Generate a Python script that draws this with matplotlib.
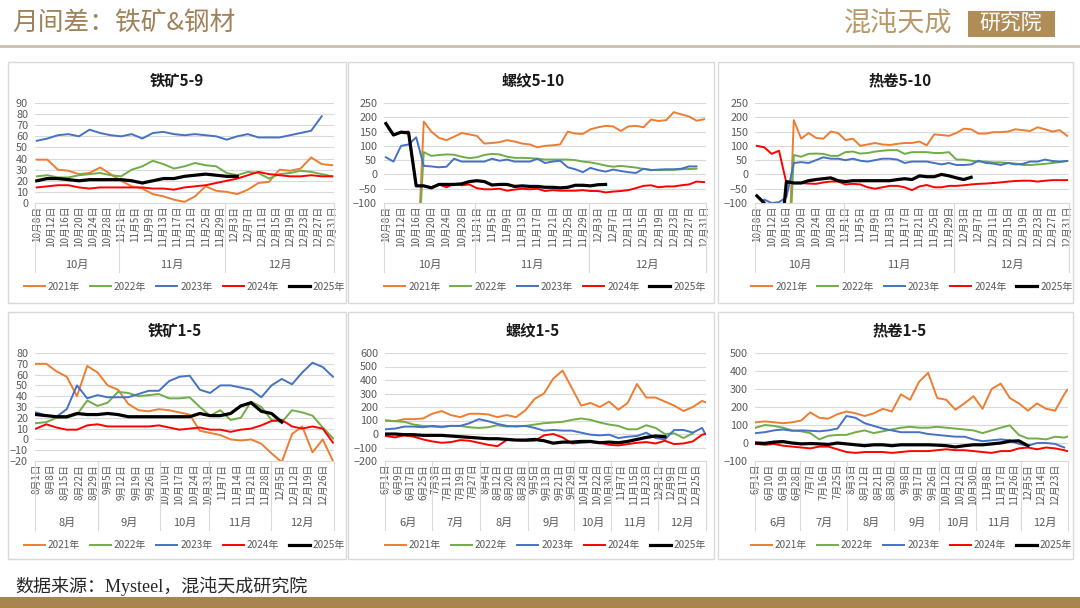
import matplotlib
matplotlib.use("Agg")
import matplotlib.pyplot as plt
from matplotlib.patches import Rectangle
from matplotlib.lines import Line2D
import numpy as np
import pandas as pd

plt.rcParams['font.family'] = ['Noto Sans CJK SC', 'DejaVu Sans']

W, H = 1080, 608
nan = np.nan

YEARS = ['2021年', '2022年', '2023年', '2024年', '2025年']
COLORS = ['#ED7D31', '#70AD47', '#4472C4', '#FF0000', '#000000']
GRAY = '#595959'
GRID = '#D9D9D9'
GOLD = '#A8844F'

# ---------------- data (one value every `step` days of the category axis) ----------------
# 铁矿5-9, every 3 days from 10/8
ore59_2021 = [39, 39, 30, 29, 26, 27, 32, 26, 20, 15, 13, 8, 6, 3, 1, 6, 15, 11, 10, 8,
              12, 18, 19, 30, 29, 31, 41, 35, 34]
ore59_2022 = [24, 25, 23, 23, 25, 26, 27, 25, 24, 30, 33, 38, 35, 31, 33, 36, 34, 33, 27, 25,
              28, 27, 22, 26, 27, 29, 28, 26, 24]
ore59_2023 = [56, 58, 61, 62, 60, 66, 63, 61, 60, 62, 58, 63, 64, 62, 61, 62, 61, 60, 57, 60,
              62, 59, 59, 59, 61, 63, 65, 78]
ore59_2024 = [14, 15, 16, 16, 14, 13, 14, 14, 14, 14, 14, 13, 13, 12, 14, 15, 16, 18, 20, 22,
              25, 28, 26, 25, 24, 24, 25, 24, 24]
ore59_2025 = [20, 22, 22, 21, 20, 21, 21, 21, 21, 20, 18, 20, 22, 22, 24, 25, 26, 25, 24, 24]

# 螺纹5-10, every 2 days from 10/8
rb510_2021 = [nan, nan, nan, nan, -400, 185, 150, 128, 120, 132, 145, 140, 135, 108, 110,
              113, 120, 115, 108, 105, 95, 100, 102, 105, 150, 143, 142, 158, 165, 170,
              168, 152, 168, 170, 165, 192, 187, 190, 218, 210, 203, 188, 193]
rb510_2022 = [nan, nan, nan, nan, -400, 78, 65, 68, 70, 69, 62, 57, 60, 68, 72, 70, 62, 58,
              58, 57, 55, 52, 52, 52, 52, 50, 45, 42, 37, 31, 27, 30, 27, 24, 19, 16, 15,
              16, 16, 18, 19, 20]
rb510_2023 = [60, 45, 100, 105, 130, 30, 28, 25, 27, 55, 45, 45, 45, 45, 55, 48, 52, 45, 45,
              45, 55, 40, 45, 48, 25, 18, 8, 23, 15, 10, 17, 12, 8, 5, 20, 15, 17, 18, 18,
              20, 28, 28]
rb510_2024 = [180, 138, 148, 150, -40, -40, -45, -35, -45, -33, -38, -35, -48, -52, -52, -50,
              -57, -53, -50, -52, -50, -58, -55, -57, -57, -57, -55, -58, -58, -63, -60, -58,
              -55, -48, -40, -38, -45, -42, -42, -38, -35, -25, -27]
rb510_2025 = [178, 138, 148, 145, -40, -40, -47, -35, -35, -35, -33, -25, -22, -25, -37, -35,
              -35, -42, -40, -42, -42, -45, -45, -47, -45, -38, -38, -40, -36, -35]

# 热卷5-10, every 2 days from 10/8
hc510_2021 = [nan, nan, nan, nan, -500, 190, 125, 145, 128, 125, 150, 145, 120, 125, 100,
              105, 110, 105, 103, 107, 110, 110, 115, 102, 140, 138, 135, 145, 160, 158,
              143, 143, 148, 148, 150, 158, 155, 152, 165, 158, 150, 155, 135]
hc510_2022 = [nan, nan, nan, nan, -500, 68, 62, 72, 73, 72, 65, 65, 78, 80, 73, 75, 80, 83,
              85, 85, 72, 78, 78, 78, 75, 75, 78, 52, 52, 48, 45, 45, 42, 42, 40, 38, 33,
              33, 35, 37, 40, 43, 47]
hc510_2023 = [-130, -88, -100, -97, -80, 40, 43, 40, 50, 60, 55, 55, 50, 55, 48, 45, 50, 55,
              55, 52, 40, 45, 45, 45, 40, 35, 40, 33, 33, 35, 48, 40, 38, 33, 40, 35, 37,
              45, 45, 52, 47, 45, 47]
hc510_2024 = [100, 95, 72, 83, -30, -30, -30, -32, -33, -28, -25, -25, -35, -33, -35, -45,
              -50, -45, -40, -40, -45, -55, -42, -37, -45, -45, -40, -40, -38, -35, -33, -32,
              -30, -28, -25, -23, -22, -22, -25, -22, -20, -20, -20]
hc510_2025 = [-75, -100, -300, -300, -25, -30, -30, -22, -18, -15, -12, -22, -25, -22, -22,
              -22, -22, -22, -22, -18, -15, -18, -5, -8, -8, 0, -5, -12, -18, -10]

# 铁矿1-5, every 5 days from 8/1
ore15_2021 = [70, 70, 63, 58, 40, 68, 62, 50, 46, 33, 27, 26, 28, 27, 25, 23, 8, 6, 4, 0,
              -1, 0, -4, -13, -21, 5, 12, -12, 0, -20]
ore15_2022 = [15, 16, 20, 20, 23, 36, 31, 34, 44, 43, 40, 41, 42, 38, 38, 39, 30, 22, 27, 18,
              20, 35, 30, 18, 16, 27, 25, 22, 11, 1]
ore15_2023 = [25, 22, 21, 28, 50, 38, 41, 39, 39, 39, 42, 45, 45, 54, 58, 59, 46, 43, 50, 50,
              48, 46, 39, 50, 56, 51, 62, 71, 67, 58]
ore15_2024 = [10, 14, 11, 9, 9, 13, 14, 12, 12, 12, 12, 12, 13, 11, 9, 10, 11, 9, 9, 7,
              9, 10, 13, 17, 18, 12, 10, 12, 10, -3]
ore15_2025 = [23, 22, 21, 21, 24, 23, 23, 24, 23, 21, 21, 21, 21, 21, 21, 21, 24, 22, 22, 24,
              31, 34, 26, 24, 16]

# 螺纹1-5, every 6 days from 6/1 (last value = 12/31)
rb15_2021 = [100, 95, 110, 110, 115, 150, 170, 140, 125, 150, 150, 145, 125, 140, 125, 175,
             260, 300, 410, 470, 340, 210, 230, 200, 240, 180, 230, 370, 270, 270, 240, 210,
             170, 200, 245, 235]
rb15_2022 = [100, 95, 90, 70, 60, 55, 50, 60, 60, 50, 45, 50, 65, 55, 60, 60, 70, 80, 85, 90,
             105, 115, 105, 85, 70, 60, 35, 35, 65, 45, 0, 5, -30, 5]
rb15_2023 = [35, 40, 55, 55, 50, 60, 55, 60, 60, 80, 110, 95, 75, 60, 55, 60, 45, 25, 30, 25,
             25, 10, -5, -10, -5, -30, -20, -15, 10, -30, -40, 30, 30, 10, 45, 0]
rb15_2024 = [-15, -25, -10, -20, -40, -55, -65, -60, -45, -50, -65, -80, -90, -45, -45, -50,
             -50, -10, 0, -25, -70, -65, -60, -65, -80, -85, -75, -65, -60, -70, -50, -75,
             -70, -55, -5, 0]
rb15_2025 = [0, 0, -5, -5, -10, -10, -10, -15, -20, -25, -30, -35, -35, -40, -45, -45, -40,
             -50, -68, -60, -60, -55, -55, -65, -60, -65, -55, -40, -25, -15, -20]

# 热卷1-5, every 6 days from 6/1 (last value = 12/31)
hc15_2021 = [115, 120, 115, 110, 115, 125, 170, 140, 135, 160, 175, 165, 150, 165, 190, 175,
             270, 240, 340, 390, 250, 240, 185, 220, 260, 190, 300, 330, 250, 220, 180, 220,
             190, 180, 270, 295]
hc15_2022 = [85, 100, 95, 85, 70, 65, 55, 20, 40, 45, 45, 60, 70, 55, 65, 75, 85, 90, 85, 85,
             90, 85, 80, 75, 70, 55, 70, 85, 98, 45, 25, 25, 20, 35, 30, 35]
hc15_2023 = [55, 60, 70, 75, 68, 70, 68, 65, 70, 80, 150, 140, 110, 95, 80, 70, 60, 60, 60, 50,
             45, 40, 35, 35, 20, 10, 15, 20, 15, -5, -15, 0, 0, -5, -25]
hc15_2024 = [-5, -10, -5, -15, -20, -25, -30, -20, -20, -35, -50, -55, -50, -50, -50, -55, -50,
             -45, -45, -45, -40, -35, -40, -40, -45, -50, -55, -45, -45, -30, -25, -35, -25,
             -30, -40, -45]
hc15_2025 = [0, -2, 5, 8, 0, -5, -3, -5, -8, 0, -5, -10, -15, -10, -10, -15, -10, -10, -10,
             -10, -12, -15, -22, -15, -10, -10, -5, 0, 10, 12, -15]


def day_categories(start, end):
    days = pd.date_range(start, end, freq='D')
    # national-day holiday is not on the category axis
    return days[~((days.month == 10) & (days.day < 8))]


def fy(py):
    return 1 - py / H


def px_rect(l, t, r, b):
    return [l / W, 1 - b / H, (r - l) / W, (b - t) / H]


fig = plt.figure(figsize=(W / 100, H / 100), dpi=100)
fig.patch.set_facecolor('white')

panels = [
    dict(title='铁矿5-9', box=(8, 62, 346, 303), rect=(35, 103, 334, 203), tpos=(177, 80),
         days=day_categories('2025-10-08', '2025-12-31'), step=3, lstep=4,
         ylim=(0, 90), ystep=10,
         series=[ore59_2021, ore59_2022, ore59_2023, ore59_2024, ore59_2025]),
    dict(title='螺纹5-10', box=(348, 62, 714, 303), rect=(384, 103, 706, 203), tpos=(533, 80),
         days=day_categories('2025-10-08', '2025-12-31'), step=2, lstep=4,
         ylim=(-100, 250), ystep=50,
         series=[rb510_2021, rb510_2022, rb510_2023, rb510_2024, rb510_2025]),
    dict(title='热卷5-10', box=(718, 62, 1073, 303), rect=(755, 103, 1069, 203), tpos=(900, 80),
         days=day_categories('2025-10-08', '2025-12-31'), step=2, lstep=4,
         ylim=(-100, 250), ystep=50,
         series=[hc510_2021, hc510_2022, hc510_2023, hc510_2024, hc510_2025]),
    dict(title='铁矿1-5', box=(8, 312, 346, 559), rect=(35, 353, 334, 461), tpos=(175, 330),
         days=day_categories('2025-08-01', '2025-12-31'), step=5, lstep=7,
         ylim=(-20, 80), ystep=10,
         series=[ore15_2021, ore15_2022, ore15_2023, ore15_2024, ore15_2025]),
    dict(title='螺纹1-5', box=(348, 312, 714, 559), rect=(385, 353, 706, 461), tpos=(533, 330),
         days=day_categories('2025-06-01', '2025-12-31'), step=6, lstep=8,
         ylim=(-200, 600), ystep=100,
         series=[rb15_2021, rb15_2022, rb15_2023, rb15_2024, rb15_2025]),
    dict(title='热卷1-5', box=(718, 312, 1073, 559), rect=(755, 353, 1068, 461), tpos=(900, 330),
         days=day_categories('2025-06-01', '2025-12-31'), step=6, lstep=9,
         ylim=(-100, 500), ystep=100,
         series=[hc15_2021, hc15_2022, hc15_2023, hc15_2024, hc15_2025]),
]

for p in panels:
    l, t, r, b = p['box']
    fig.add_artist(Rectangle((l / W, fy(b)), (r - l) / W, (b - t) / H, transform=fig.transFigure,
                             facecolor='white', edgecolor=GRID, lw=1, zorder=-1))
    fig.text(p['tpos'][0] / W, fy(p['tpos'][1]), p['title'], ha='center', va='center',
             fontsize=11, fontweight='bold', color='#1a1a1a')

    days = p['days']
    n = len(days)
    ax_h = p['rect'][3] - p['rect'][1]
    ax = fig.add_axes(px_rect(*p['rect']))
    ax.set_facecolor('none')

    for vals, year, color in zip(p['series'], YEARS, COLORS):
        idx = np.minimum(np.arange(len(vals)) * p['step'], n - 1)
        ax.plot(idx, vals, color=color, lw=2.3 if year == '2025年' else 1.4, label=year)

    # category axis: day labels, then month groups
    pos = np.arange(0, n, p['lstep'])
    ax.set_xticks(pos)
    ax.set_xticklabels([f"{d.month}月{d.day}日" for d in days[pos]])
    ax.tick_params(axis='x', length=0, pad=2, labelsize=7, labelcolor=GRAY, labelrotation=90)
    ax.tick_params(axis='y', length=0, pad=5, labelsize=7.8, labelcolor=GRAY)

    trans = ax.get_xaxis_transform()
    months = list(days.month)
    starts = [i for i in range(n) if i == 0 or months[i] != months[i - 1]]
    for s in starts + [n]:
        ax.plot([s - 0.5, s - 0.5], [0, -69 / ax_h], transform=trans, color=GRID, lw=0.8,
                clip_on=False)
    for s, e in zip(starts, starts[1:] + [n]):
        ax.annotate(f"{months[s]}月", xy=((s + e - 1) / 2, 0), xycoords=trans,
                    xytext=(0, -62), textcoords='offset pixels', ha='center', va='center',
                    fontsize=8, color=GRAY)

    y0, y1 = p['ylim']
    ax.set_ylim(y0, y1)
    ax.set_yticks(np.arange(y0, y1 + 1, p['ystep']))
    ax.set_xlim(-0.5, n - 0.5)
    ax.grid(axis='y', color=GRID, lw=0.8)
    ax.set_axisbelow(True)
    for side in ['top', 'left', 'right']:
        ax.spines[side].set_visible(False)
    ax.spines['bottom'].set_color(GRID)

    ax.legend(loc='center', bbox_to_anchor=(0.5, -84 / ax_h), ncol=5, frameon=False,
              fontsize=7.2, handlelength=2.1, handletextpad=0.3, columnspacing=1.0,
              labelcolor=GRAY)

# header
fig.text(12 / W, fy(23), '月间差：铁矿&钢材', fontsize=18.5, color='#A0825A', ha='left', va='center')
fig.text(844 / W, fy(24), '混沌天成', fontsize=19.5, color='#B89868', ha='left', va='center')
fig.add_artist(Rectangle((968 / W, fy(37)), 87 / W, 26 / H, transform=fig.transFigure,
                         facecolor='#B08D57', edgecolor='none'))
fig.text(1011 / W, fy(24), '研究院', fontsize=15, color='white', ha='center', va='center')
fig.add_artist(Line2D([0, 1], [fy(46), fy(46)], transform=fig.transFigure, color='#C9BFAE', lw=2))

# footer
fig.text(15 / W, fy(586), '数据来源：Mysteel，混沌天成研究院', fontsize=13,
         family=['Liberation Serif', 'Noto Sans CJK SC'], color='#262626', ha='left', va='center')
fig.add_artist(Rectangle((0, 0), 1, 11 / H, transform=fig.transFigure, facecolor=GOLD,
                         edgecolor='none'))

fig.savefig('out.png', dpi=100)
